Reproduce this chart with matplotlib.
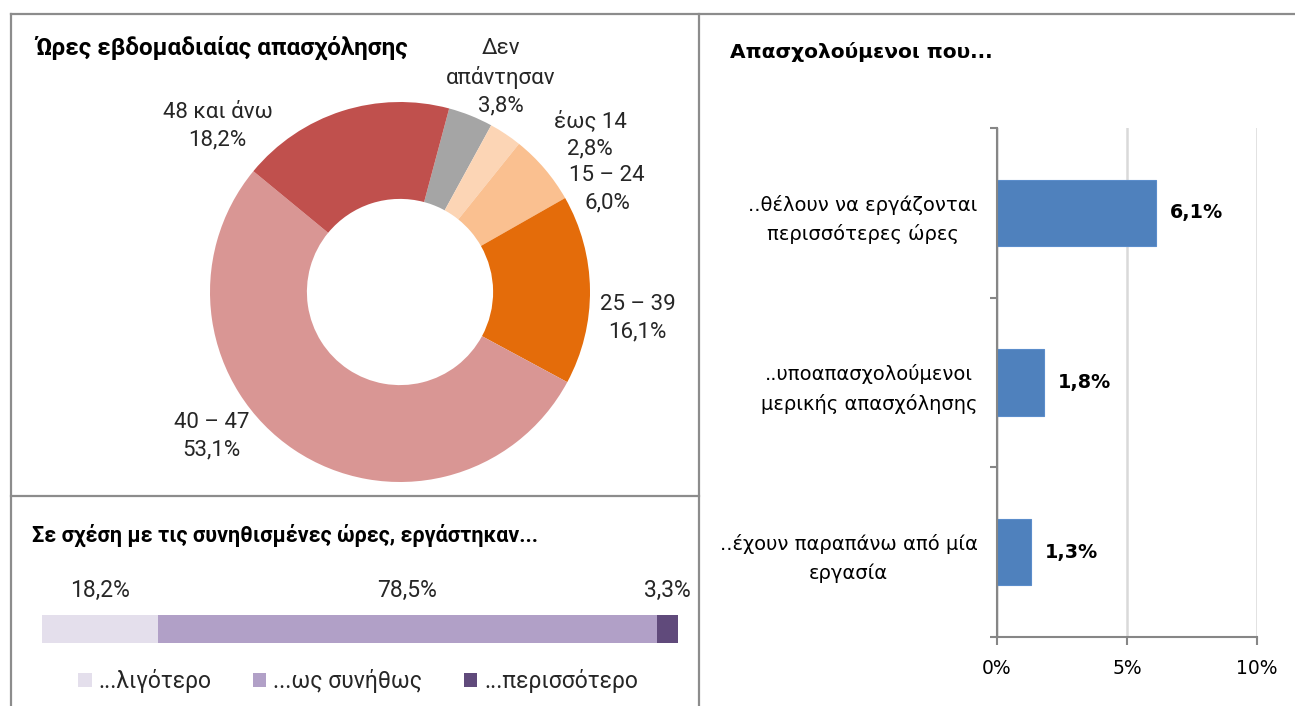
import matplotlib.pyplot as plt
from matplotlib.lines import Line2D
from matplotlib.patches import Patch
import numpy as np

# Ώρες εβδομαδιαίας απασχόλησης (donut)
hour_labels = ['Δεν\nαπάντησαν', 'έως 14', '15 – 24', '25 – 39', '40 – 47', '48 και άνω']
hour_values = [3.8, 2.8, 6.0, 16.1, 53.1, 18.2]
hour_colors = ['#A5A5A5', '#FCD5B5', '#FAC090', '#E46C0A', '#D99694', '#C0504D']

# Σε σχέση με τις συνηθισμένες ώρες (stacked bar)
usual_labels = ['...λιγότερο', '...ως συνήθως', '...περισσότερο']
usual_values = [18.2, 78.5, 3.3]
usual_colors = ['#E4DFEC', '#B1A0C7', '#604A7B']

# Απασχολούμενοι που... (bars)
emp_labels = ['..θέλουν να εργάζονται\nπερισσότερες ώρες',
              '..υποαπασχολούμενοι\nμερικής απασχόλησης',
              '..έχουν παραπάνω από μία\nεργασία']
emp_values = [6.1, 1.8, 1.3]
x_ticks = [0, 5, 10]

W, H = 1295, 706
LEFT_FONT = ['Roboto', 'DejaVu Sans']
RIGHT_FONT = ['DejaVu Sans']
plt.rcParams['font.family'] = LEFT_FONT


def px(x0, y0, x1, y1):
    return [x0 / W, 1 - y1 / H, (x1 - x0) / W, (y1 - y0) / H]


def pct(v):
    return f"{v:.1f}%".replace('.', ',')


fig = plt.figure(figsize=(W / 100, H / 100), dpi=100)

# panel borders
border = '#8C8C8C'
for (xa, ya), (xb, yb) in [((11, 14), (1295, 14)), ((11, 14), (11, 706)),
                           ((699, 14), (699, 706)), ((11, 496), (699, 496))]:
    fig.add_artist(Line2D([xa / W, xb / W], [1 - ya / H, 1 - yb / H],
                          transform=fig.transFigure, color=border, lw=1.6))

# ---- donut ----
ax1 = fig.add_axes(px(210, 102, 590, 482))
ax1.pie(hour_values, colors=hour_colors, startangle=75, counterclock=False,
        radius=1, wedgeprops=dict(width=0.51, linewidth=0))
ax1.set_xlim(-1, 1)
ax1.set_ylim(-1, 1)
ax1.axis('off')
label_pos = [(0.53, 1.13), (1.0, 0.83), (1.09, 0.54), (1.25, -0.14), (-0.99, -0.76), (-0.96, 0.87)]
for lab, v, (lx, ly) in zip(hour_labels, hour_values, label_pos):
    ax1.text(lx, ly, f"{lab}\n{pct(v)}", ha='center', va='center', fontsize=16,
             linespacing=1.4, color='#262626')

fig.text(35 / W, 1 - 48 / H, 'Ώρες εβδομαδιαίας απασχόλησης', fontsize=17.5,
         fontweight='bold', va='center', ha='left')

# ---- stacked bar ----
ax2 = fig.add_axes(px(42, 615, 678, 643))
left = 0
handles = []
for lab, v, c in zip(usual_labels, usual_values, usual_colors):
    ax2.barh(0, v, left=left, height=1, color=c, linewidth=0)
    ax2.annotate(pct(v), (left + v / 2, 0.5), xytext=(0, 18), textcoords='offset points',
                 ha='center', va='center', fontsize=16.5, color='#262626')
    handles.append(Patch(facecolor=c, label=lab))
    left += v
ax2.set_xlim(0, 100)
ax2.set_ylim(-0.5, 0.5)
ax2.axis('off')
fig.legend(handles=handles, loc='center', bbox_to_anchor=(358 / W, 1 - 681 / H), ncol=3,
           frameon=False, fontsize=16.5, handlelength=0.6, handleheight=0.6,
           handletextpad=0.3, columnspacing=1.8, labelcolor='#262626')

fig.text(32 / W, 1 - 535 / H, 'Σε σχέση με τις συνηθισμένες ώρες, εργάστηκαν...',
         fontsize=15.5, fontweight='bold', va='center', ha='left')

# ---- horizontal bars ----
ax3 = fig.add_axes(px(997, 128, 1257, 637))
y = np.arange(len(emp_values))
ax3.barh(y, emp_values, height=0.39, color='#4F81BD', edgecolor='#5B8DCB', linewidth=0.8, zorder=3)
for yi, v in zip(y, emp_values):
    ax3.annotate(pct(v), (v, yi), xytext=(10, 0), textcoords='offset points',
                 ha='left', va='center', fontsize=13.8, fontweight='bold', family=RIGHT_FONT)
ax3.set_xlim(0, 10)
ax3.set_ylim(len(emp_values) - 0.5, -0.5)
ax3.set_xticks(x_ticks)
ax3.set_xticklabels([f"{t}%" for t in x_ticks], family=RIGHT_FONT, fontsize=13.5)
ax3.set_yticks(y)
ax3.set_yticklabels(emp_labels, family=RIGHT_FONT, fontsize=14, multialignment='center',
                    linespacing=1.6)
ax3.set_yticks(np.arange(-0.5, len(emp_values)), minor=True)
ax3.tick_params(axis='y', which='major', length=0, pad=14)
ax3.tick_params(axis='y', which='minor', length=5, width=1.5, color='#868686')
ax3.tick_params(axis='x', length=5.5, width=1.5, color='#868686', pad=10)
ax3.grid(axis='x', color='#D9D9D9', lw=1.8, zorder=0)
for s in ['top', 'right']:
    ax3.spines[s].set_visible(False)
for s in ['left', 'bottom']:
    ax3.spines[s].set_color('#868686')
    ax3.spines[s].set_linewidth(1.5)
    ax3.spines[s].set_zorder(4)

fig.text(730 / W, 1 - 52 / H, 'Απασχολούμενοι που...', fontsize=14.5, fontweight='bold',
         va='center', ha='left', family=RIGHT_FONT)

fig.savefig('out.png', dpi=100)
